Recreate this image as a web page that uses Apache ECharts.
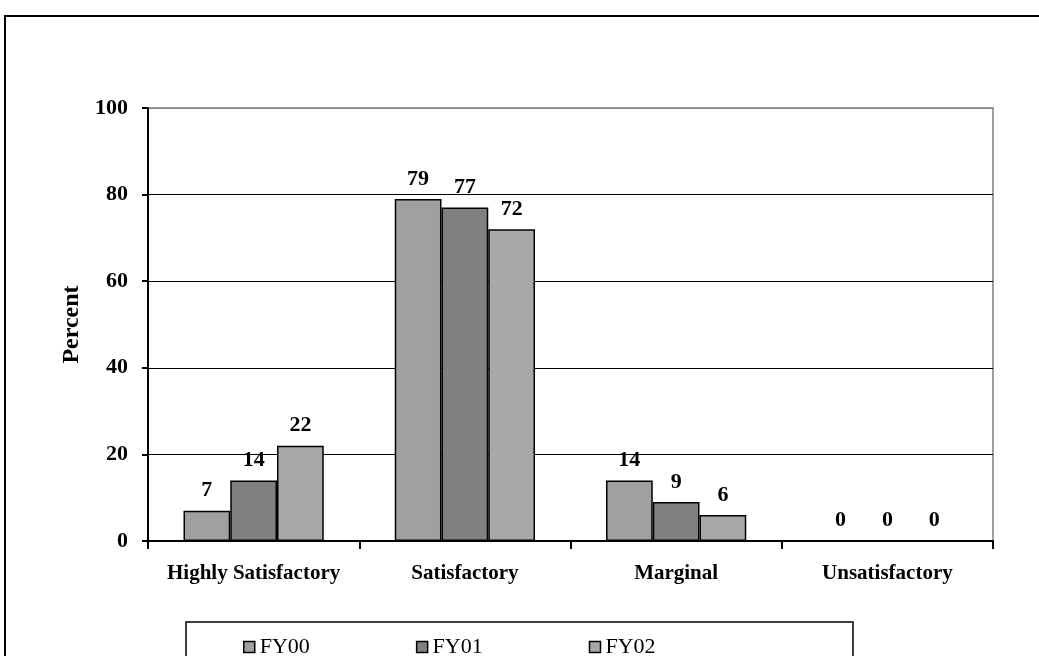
<!DOCTYPE html>
<html>
<head>
<meta charset="utf-8">
<script src="https://cdn.jsdelivr.net/npm/echarts@6/dist/echarts.min.js"></script>
<style>
html,body{margin:0;padding:0;background:#fff;}
#chart{width:1039px;height:656px;}
</style>
</head>
<body>
<div id="chart"></div>
<script>
const categories = ['Highly Satisfactory', 'Satisfactory', 'Marginal', 'Unsatisfactory'];
const seriesNames = ['FY00', 'FY01', 'FY02'];
const fy00 = [7, 79, 14, 0];
const fy01 = [14, 77, 9, 0];
const fy02 = [22, 72, 6, 0];
const yTicks = [0, 20, 40, 60, 80, 100];
const colors = ['#a0a0a0', '#808080', '#a8a8a8'];

const font = 'Liberation Serif, "Times New Roman", serif';
const chart = echarts.init(document.getElementById('chart'), null, {renderer: 'canvas'});

function mkSeries(name, data, color) {
  return {
    name: name,
    type: 'bar',
    data: data,
    barGap: '0%',
    barCategoryGap: '33.6%',
    itemStyle: {color: color, borderColor: '#000', borderWidth: 1.5},
    label: {
      show: true, position: 'top', distance: 9,
      color: '#000', fontFamily: font, fontWeight: 'bold', fontSize: 22
    }
  };
}

chart.setOption({
  animation: false,
  backgroundColor: '#fff',
  graphic: [
    {type: 'rect', shape: {x: 5, y: 16, width: 1100, height: 700}, style: {fill: 'none', stroke: '#000', lineWidth: 2}, z: 0},
    {type: 'rect', shape: {x: 186, y: 622, width: 667, height: 100}, style: {fill: 'none', stroke: '#000', lineWidth: 1.5}, z: 0}
  ],
  grid: {left: 148, right: 46, top: 108, bottom: 115, show: true, borderColor: '#808080', borderWidth: 1.5, backgroundColor: 'transparent'},
  legend: {
    left: 243, top: 636, padding: 0,
    itemWidth: 11, itemHeight: 11, itemGap: 106,
    icon: 'rect',
    itemStyle: {borderColor: '#000', borderWidth: 1.5},
    textStyle: {fontFamily: font, fontSize: 22, color: '#000'},
    data: seriesNames
  },
  xAxis: {
    type: 'category',
    data: categories,
    axisLine: {lineStyle: {color: '#000', width: 2}},
    axisTick: {show: true, length: 8, lineStyle: {color: '#000', width: 2}},
    axisLabel: {margin: 22, color: '#000', fontFamily: font, fontWeight: 'bold', fontSize: 21, interval: 0}
  },
  yAxis: {
    type: 'value',
    min: yTicks[0], max: yTicks[yTicks.length - 1], interval: 20,
    name: 'Percent', nameLocation: 'middle', nameGap: 64, nameRotate: 90,
    nameTextStyle: {color: '#000', fontFamily: font, fontWeight: 'bold', fontSize: 24},
    axisLine: {show: true, lineStyle: {color: '#000', width: 2}},
    axisTick: {show: true, length: 6, lineStyle: {color: '#000', width: 2}},
    axisLabel: {margin: 20, color: '#000', fontFamily: font, fontWeight: 'bold', fontSize: 22},
    splitLine: {show: true, lineStyle: {color: ['#000', '#000', '#000', '#000', '#000', '#808080'], width: 1.2}}
  },
  series: [
    mkSeries(seriesNames[0], fy00, colors[0]),
    mkSeries(seriesNames[1], fy01, colors[1]),
    mkSeries(seriesNames[2], fy02, colors[2])
  ]
});
</script>
</body>
</html>
